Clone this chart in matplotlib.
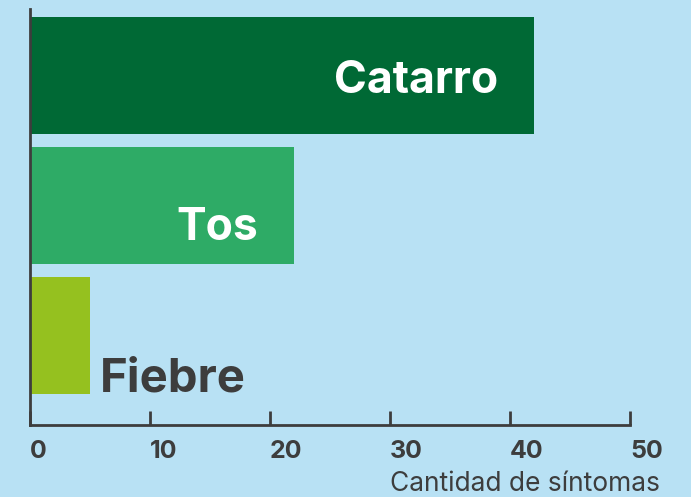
import matplotlib.pyplot as plt

categories = ['Catarro', 'Tos', 'Fiebre']
values = [42, 22, 5]
bar_colors = ['#006935', '#2eab66', '#95c11f']
ticks = [0, 10, 20, 30, 40, 50]

bg = '#b8e1f4'
dark = '#3d3d3d'

plt.rcParams['font.family'] = ['Inter', 'DejaVu Sans']

fig = plt.figure(figsize=(6.91, 4.97), dpi=100, facecolor=bg)
ax = fig.add_axes([30 / 691, 1 - 425 / 497, 600 / 691, 416 / 497])
ax.set_facecolor(bg)

ypos = list(range(len(categories)))
ax.barh(ypos, values, height=0.9, color=bar_colors)

ax.set_xlim(0, 50)
ax.set_ylim(2.69, -0.51)

# desplazamiento vertical de la línea base de cada etiqueta
base_off = [0.135, 0.265, 0.435]

# etiquetas de las barras: dentro si caben, si no a la derecha
for i, (cat, val) in enumerate(zip(categories, values)):
    if val > 10:
        ax.text(val - 3, i + base_off[i], cat, color='white', fontsize=32, fontweight='bold',
                ha='right', va='baseline')
    else:
        ax.text(val + 0.8, i + base_off[i], cat, color=dark, fontsize=34, fontweight='bold',
                ha='left', va='baseline')

for s in ['top', 'right']:
    ax.spines[s].set_visible(False)
for s in ['left', 'bottom']:
    ax.spines[s].set_color(dark)
    ax.spines[s].set_linewidth(2)

ax.set_yticks([])
ax.set_xticks(ticks)
ax.set_xticklabels([str(t) for t in ticks], fontsize=18, fontweight='bold', color=dark, ha='left')
ax.tick_params(axis='x', direction='in', length=10, width=2, color=dark, pad=11)

fig.text(660 / 691, 1 - 491 / 497, 'Cantidad de síntomas', fontsize=19, color=dark,
         ha='right', va='baseline')

fig.savefig('out.png', dpi=100, facecolor=bg)
